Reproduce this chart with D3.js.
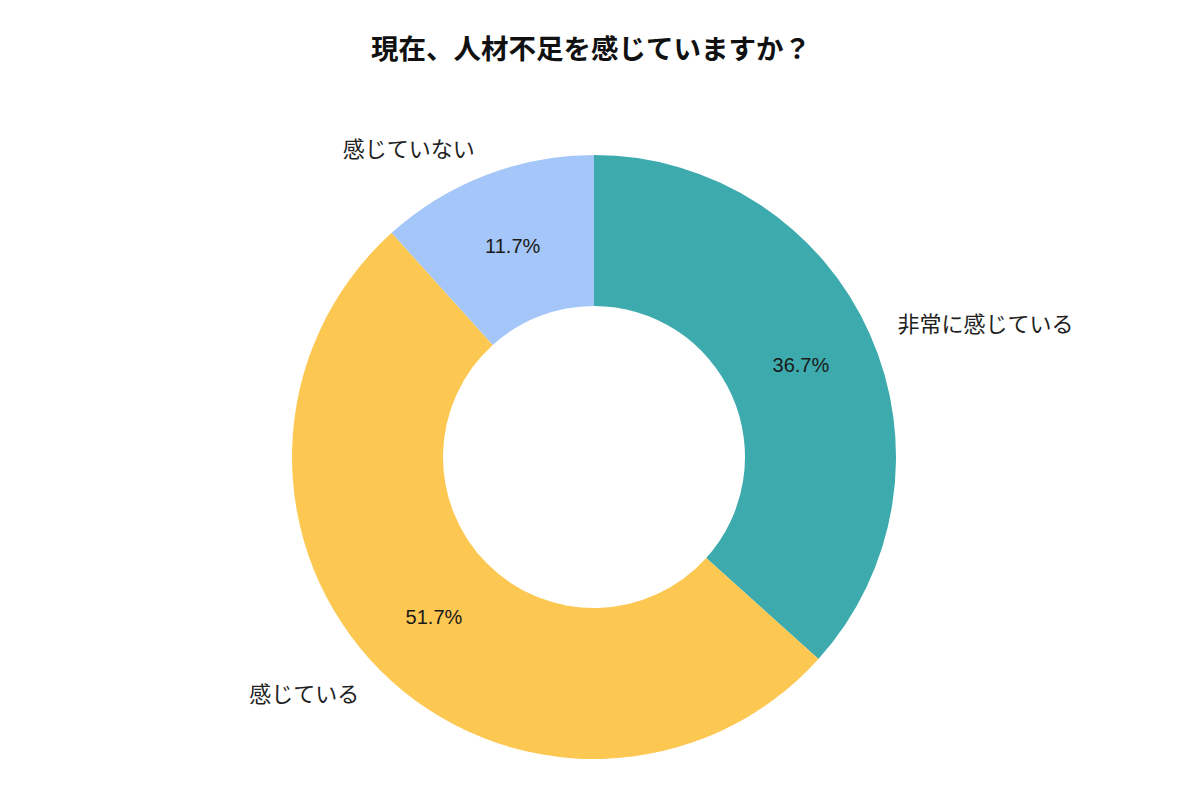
<!DOCTYPE html>
<html lang="ja">
<head>
  <meta charset="UTF-8">
  <title>現在、人材不足を感じていますか？</title>
  <style>
    body { margin: 0; background: #fff; }
    .title { font-family: "Noto Sans CJK JP", sans-serif; font-weight: bold; font-size: 27.5px; fill: #111; }
    .catLabel { font-family: "Noto Sans CJK JP", sans-serif; font-size: 22px; fill: #222; }
    .pctLabel { font-family: "Liberation Sans", Arial, sans-serif; font-size: 20px; fill: #1a1a1a; }
  </style>
</head>
<body>
  <script src="https://d3js.org/d3.v7.min.js"></script>
  <script>
    // data
    const categories = ['非常に感じている', '感じている', '感じていない'];
    const values = [36.7, 51.7, 11.7];
    const colors = ['#3DAAAD', '#FDC852', '#A5C6F8'];
    const titleText = '現在、人材不足を感じていますか？';

    const WIDTH = 1200;
    const HEIGHT = 800;
    const cx = 594, cy = 457;
    const outerR = 302;
    const innerR = 151;

    const svg = d3.select('body').append('svg')
      .attr('width', WIDTH)
      .attr('height', HEIGHT);

    svg.append('text')
      .attr('class', 'title')
      .attr('x', 591)
      .attr('y', 47)
      .attr('text-anchor', 'middle')
      .attr('dominant-baseline', 'central')
      .text(titleText);

    const data = categories.map((c, i) => ({ name: c, value: values[i], color: colors[i] }));

    // clockwise from 12 o'clock, same order as the source
    const pie = d3.pie().value(d => d.value).sort(null);
    const arc = d3.arc().innerRadius(innerR).outerRadius(outerR);

    const chart = svg.append('g').attr('transform', `translate(${cx},${cy})`);
    const arcs = pie(data);

    chart.selectAll('path')
      .data(arcs)
      .enter()
      .append('path')
      .attr('d', arc)
      .attr('fill', d => d.data.color);

    const mid = d => (d.startAngle + d.endAngle) / 2;

    // percentage in the middle of the ring
    const pctR = 0.75 * outerR;
    chart.selectAll('.pctLabel')
      .data(arcs)
      .enter()
      .append('text')
      .attr('class', 'pctLabel')
      .attr('x', d => pctR * Math.sin(mid(d)))
      .attr('y', d => -pctR * Math.cos(mid(d)))
      .attr('text-anchor', 'middle')
      .attr('dominant-baseline', 'central')
      .text(d => d.data.value.toFixed(1) + '%');

    // category labels just outside
    const labR = 1.1 * outerR;
    chart.selectAll('.catLabel')
      .data(arcs)
      .enter()
      .append('text')
      .attr('class', 'catLabel')
      .attr('x', d => labR * Math.sin(mid(d)))
      .attr('y', d => -labR * Math.cos(mid(d)))
      .attr('text-anchor', d => Math.sin(mid(d)) > 0 ? 'start' : 'end')
      .attr('dominant-baseline', 'central')
      .text(d => d.data.name);
  </script>
</body>
</html>
